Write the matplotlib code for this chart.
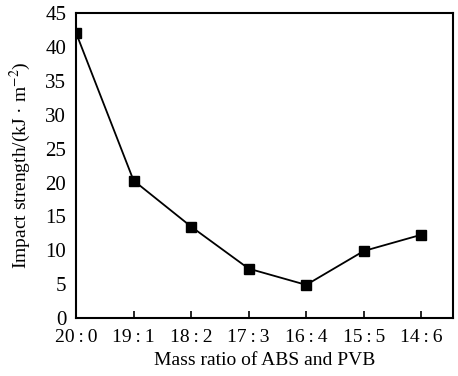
import matplotlib.pyplot as plt

ratios = ['20\u2009:\u20090', '19\u2009:\u20091', '18\u2009:\u20092', '17\u2009:\u20093',
          '16\u2009:\u20094', '15\u2009:\u20095', '14\u2009:\u20096']
strength = [42.1, 20.3, 13.5, 7.3, 4.9, 9.9, 12.3]

plt.rcParams['font.family'] = ['Liberation Serif', 'DejaVu Serif']
plt.rcParams['mathtext.fontset'] = 'stix'

fig = plt.figure(figsize=(4.58, 3.76), dpi=100)
ax = fig.add_axes([0.166, 0.154, 0.823, 0.811])

x = list(range(len(ratios)))
ax.plot(x, strength, color='black', linewidth=1.3, marker='s', markersize=7)

ax.set_xlim(0, 6.55)
ax.set_ylim(0, 45)
ax.set_yticks(range(0, 46, 5))
ax.set_xticks(x)
ax.set_xticklabels(ratios)
ax.tick_params(direction='in', length=5, width=1.2)
ax.tick_params(axis='y', length=0, pad=7, labelsize=15)
ax.tick_params(axis='x', pad=8, labelsize=14)
for s in ax.spines.values():
    s.set_linewidth(1.5)

ax.set_xlabel('Mass ratio of ABS and PVB', fontsize=14, labelpad=4)
ax.set_ylabel('Impact strength/(kJ · m$^{-2}$)', fontsize=14, labelpad=9)

fig.savefig('out.png', dpi=100)
